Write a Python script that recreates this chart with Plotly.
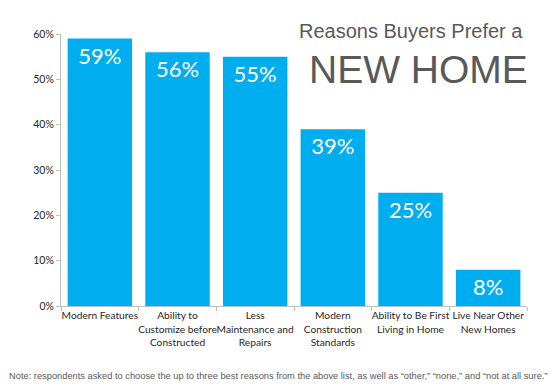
import plotly.graph_objects as go

categories = ["Modern Features", "Ability to<br>Customize before<br>Constructed",
              "Less<br>Maintenance and<br>Repairs", "Modern<br>Construction<br>Standards",
              "Ability to Be First<br>Living in Home", "Live Near Other<br>New Homes"]
values = [0.59, 0.56, 0.55, 0.39, 0.25, 0.08]
labels = ["59%", "56%", "55%", "39%", "25%", "8%"]

fig = go.Figure(go.Bar(
    x=categories, y=values, text=labels,
    textposition="inside", insidetextanchor="end", textangle=0,
    constraintext="none",
    textfont=dict(family="Lato, Open Sans, sans-serif", size=22, color="white"),
    marker=dict(color="#00AEEF", line=dict(width=0)),
    cliponaxis=False,
))

fig.update_layout(
    width=550, height=386,
    margin=dict(l=61, r=23, t=34, b=80, autoexpand=False),
    paper_bgcolor="white", plot_bgcolor="white",
    bargap=0.17, showlegend=False,
    font=dict(family="Lato, Open Sans, sans-serif", color="#262626", size=11),
    xaxis=dict(tickson="boundaries", ticks="outside", ticklen=4, tickcolor="#bfbfbf",
               showline=True, linecolor="#bfbfbf", linewidth=1, tickangle=0,
               automargin=False,
               tickfont=dict(size=10.2, family="Lato, Open Sans, sans-serif")),
    yaxis=dict(range=[0, 0.6], tickformat=".0%", dtick=0.1, showgrid=False,
               ticks="outside", ticklen=4, tickcolor="#bfbfbf", automargin=False,
               showline=True, linecolor="#bfbfbf", linewidth=1, zeroline=False,
               tickfont=dict(size=10.5, family="Lato, Open Sans, sans-serif")),
    annotations=[
        dict(text="Reasons Buyers Prefer a", xref="paper", yref="paper", x=0.996, y=1.011,
             xanchor="right", yanchor="middle", showarrow=False,
             font=dict(family="Liberation Sans, Arial, sans-serif", size=20, color="#595959")),
        dict(text="NEW HOME", xref="paper", yref="paper", x=1.006, y=0.868,
             xanchor="right", yanchor="middle", showarrow=False,
             font=dict(family="Liberation Sans, Arial, sans-serif", size=39, color="#595959")),
        dict(text="Note: respondents asked to choose the up to three best reasons from the above list, as well as \u201cother,\u201d \u201cnone,\u201d and \u201cnot at all sure.\u201d",
             xref="paper", yref="paper", x=-0.116, y=-0.257, xanchor="left", yanchor="middle",
             showarrow=False,
             font=dict(family="Liberation Sans, Arial, sans-serif", size=9.3, color="#595959")),
    ],
)

fig.write_html("out.html", config={"displayModeBar": False},
               post_script="document.body.style.margin='0';document.body.style.padding='0';")
